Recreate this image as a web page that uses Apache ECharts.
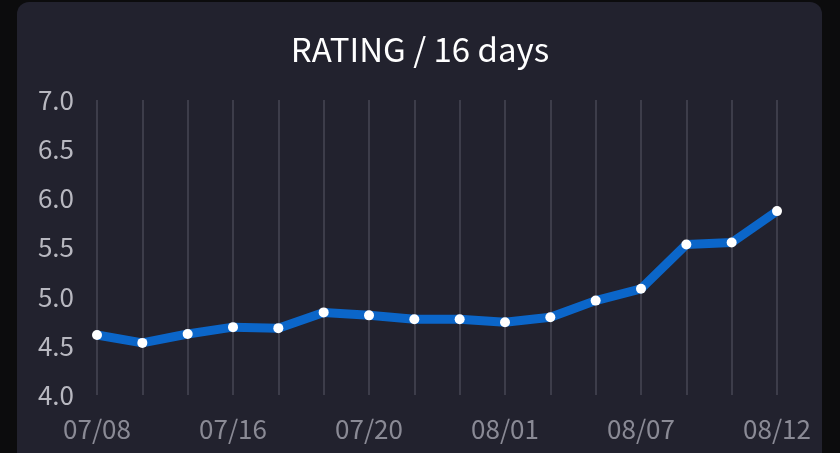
<!DOCTYPE html>
<html>
<head>
<meta charset="utf-8">
<script src="https://cdn.jsdelivr.net/npm/echarts@6/dist/echarts.min.js"></script>
<style>
html,body{margin:0;padding:0;width:840px;height:453px;background:#0c0c0d;overflow:hidden;}
#card{position:absolute;left:17px;top:2px;width:805px;height:470px;background:#22222e;border-radius:12px;}
#chart{position:absolute;left:0;top:0;width:840px;height:453px;}
</style>
</head>
<body>
<div id="card"></div>
<div id="chart"></div>
<script>
const categories = ['07/08','07/10','07/12','07/16','07/17','07/18','07/20','07/22','07/25','08/01','08/03','08/05','08/07','08/09','08/10','08/12'];
const ratings = [4.61, 4.53, 4.62, 4.69, 4.68, 4.84, 4.81, 4.77, 4.77, 4.74, 4.79, 4.96, 5.08, 5.53, 5.55, 5.87];
const yTicks = [4.0, 4.5, 5.0, 5.5, 6.0, 6.5, 7.0];
const titleText = 'RATING / 16 days';

const font = '"Noto Sans CJK SC", "Noto Sans", sans-serif';
const chart = echarts.init(document.getElementById('chart'), null, {renderer:'canvas'});
chart.setOption({
  backgroundColor: 'transparent',
  animation: false,
  title: {
    text: titleText, left: 'center', top: 28,
    textStyle: {color:'#ffffff', fontSize: 33, fontWeight: 'normal', fontFamily: font}
  },
  grid: {left: 97, right: 63, top: 100, bottom: 58, containLabel: false},
  xAxis: {
    type: 'category', data: categories, boundaryGap: false,
    axisLine: {show:false}, axisTick: {show:false},
    axisLabel: {interval: 2, color:'#8a8a95', fontSize: 26, fontFamily: font, margin: 21},
    splitLine: {show:true, interval: 0, lineStyle:{color:'#474755', width:1.5}}
  },
  yAxis: {
    type: 'value', min: yTicks[0], max: yTicks[yTicks.length-1], interval: 0.5,
    axisLine: {show:false}, axisTick: {show:false}, splitLine: {show:false},
    axisLabel: {color:'#b8b8c0', fontSize: 26, fontFamily: font, margin: 23,
      formatter: v => v.toFixed(1)}
  },
  series: [{
    type: 'line', data: ratings,
    lineStyle: {color:'#0b66c9', width: 9},
    itemStyle: {color:'#ffffff', borderWidth: 0},
    symbol: 'circle', symbolSize: 10, showSymbol: true
  }]
});
</script>
</body>
</html>
